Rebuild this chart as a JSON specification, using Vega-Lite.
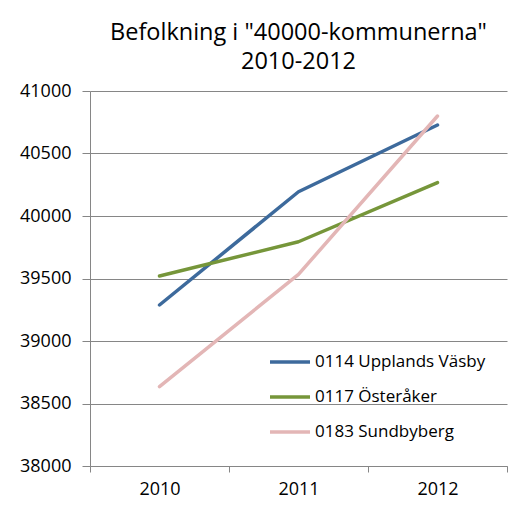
{
  "$schema": "https://vega.github.io/schema/vega-lite/v6.json",
  "autosize": "none",
  "width": 417,
  "height": 375,
  "padding": {"left": 90, "top": 91, "right": 24, "bottom": 41},
  "background": "white",
  "title": {
    "text": ["Befolkning i \"40000-kommunerna\"", "2010-2012"],
    "font": "Open Sans",
    "fontSize": 23.5,
    "fontWeight": "normal",
    "color": "#000000",
    "lineHeight": 29,
    "anchor": "middle",
    "offset": 9
  },
  "data": {
    "values": [
      {"year": "2010", "kommun": "0114 Upplands Väsby", "pop": 39288},
      {"year": "2011", "kommun": "0114 Upplands Väsby", "pop": 40194},
      {"year": "2012", "kommun": "0114 Upplands Väsby", "pop": 40728},
      {"year": "2010", "kommun": "0117 Österåker", "pop": 39520},
      {"year": "2011", "kommun": "0117 Österåker", "pop": 39794},
      {"year": "2012", "kommun": "0117 Österåker", "pop": 40267},
      {"year": "2010", "kommun": "0183 Sundbyberg", "pop": 38635},
      {"year": "2011", "kommun": "0183 Sundbyberg", "pop": 39533},
      {"year": "2012", "kommun": "0183 Sundbyberg", "pop": 40800}
    ]
  },
  "mark": {"type": "line", "strokeWidth": 3.5, "strokeCap": "round", "strokeJoin": "round"},
  "encoding": {
    "x": {
      "field": "year",
      "type": "ordinal",
      "scale": {"type": "band", "paddingInner": 0, "paddingOuter": 0},
      "axis": {
        "title": null,
        "labelAngle": 0,
        "tickBand": "extent",
        "labelFont": "Open Sans",
        "labelFontSize": 18,
        "labelColor": "#000000",
        "labelPadding": 8,
        "domainColor": "#868686",
        "tickColor": "#868686",
        "tickSize": 6,
        "grid": false
      }
    },
    "y": {
      "field": "pop",
      "type": "quantitative",
      "scale": {"domain": [38000, 41000], "zero": false, "nice": false},
      "axis": {
        "title": null,
        "values": [38000, 38500, 39000, 39500, 40000, 40500, 41000],
        "format": "d",
        "labelFont": "Open Sans",
        "labelFontSize": 18,
        "labelColor": "#000000",
        "labelPadding": 11,
        "tickSize": 8,
        "tickColor": "#868686",
        "domainColor": "#868686",
        "gridColor": "#868686",
        "grid": true
      }
    },
    "color": {
      "field": "kommun",
      "type": "nominal",
      "scale": {
        "domain": ["0114 Upplands Väsby", "0117 Österåker", "0183 Sundbyberg"],
        "range": ["#3d6a9c", "#76963a", "#e3b6b6"]
      },
      "legend": {
        "title": null,
        "orient": "none",
        "legendX": 178,
        "legendY": 249,
        "symbolType": "stroke",
        "symbolSize": 1600,
        "symbolStrokeWidth": 3.5,
        "labelFont": "Open Sans",
        "labelFontSize": 17,
        "labelColor": "#000000",
        "labelLimit": 300,
        "rowPadding": 5,
        "labelOffset": 3
      }
    }
  },
  "config": {"view": {"stroke": null}}
}
